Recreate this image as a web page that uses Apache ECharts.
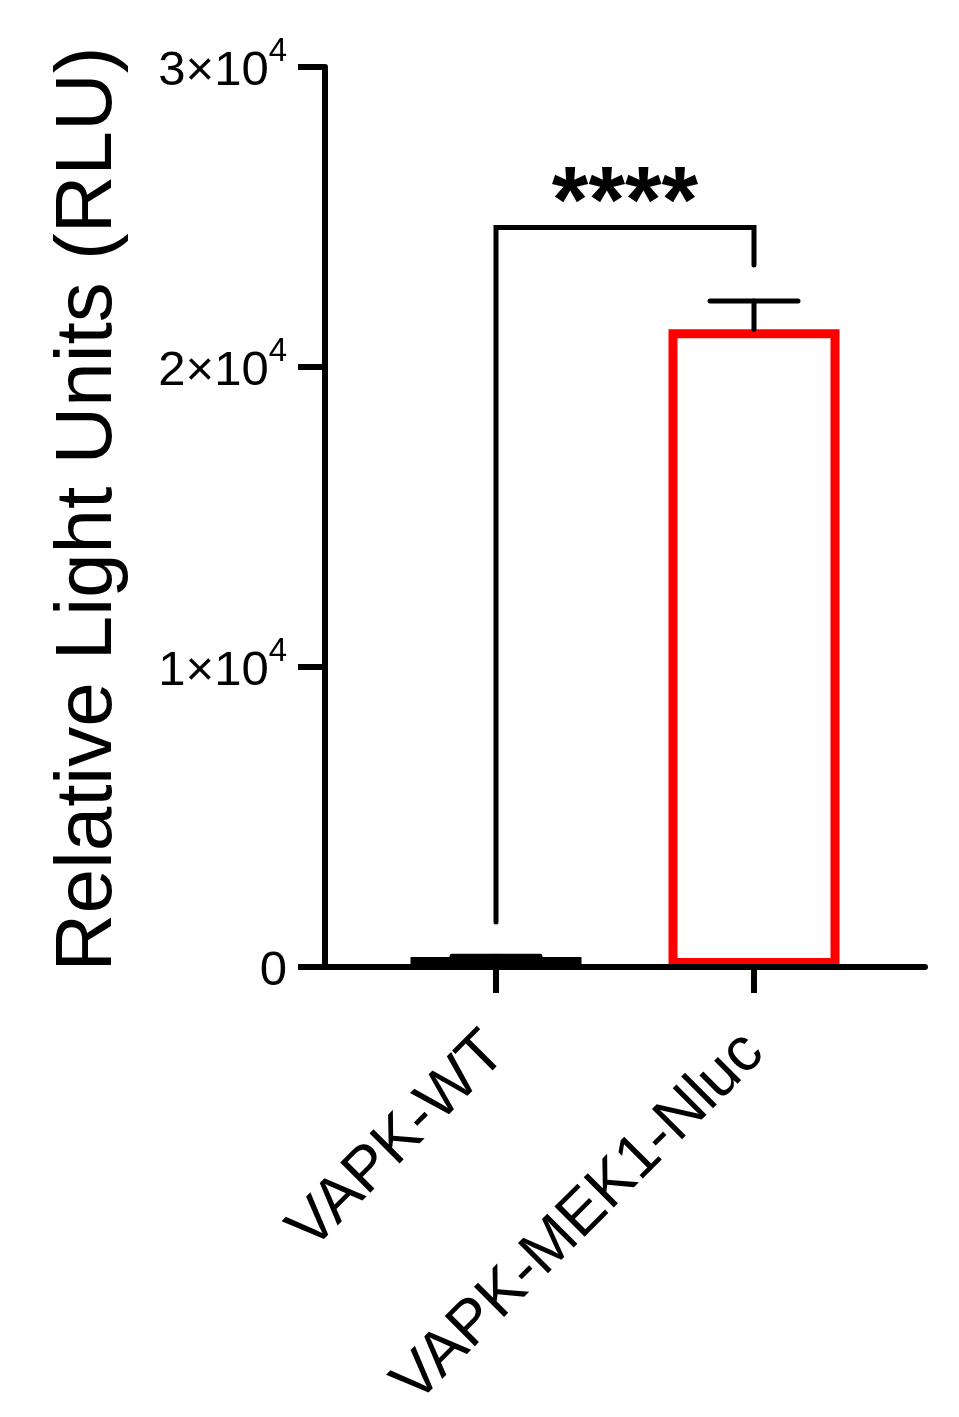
<!DOCTYPE html>
<html>
<head>
<meta charset="utf-8">
<script src="https://cdn.jsdelivr.net/npm/echarts@6/dist/echarts.min.js"></script>
<style>
html,body{margin:0;padding:0;background:#fff;}
#main{width:959px;height:1417px;}
</style>
</head>
<body>
<div id="main"></div>
<script>
var categories = ['VAPK-WT', 'VAPK-MEK1-Nluc'];
var meanValues = [330, 21260];
var errorTops = [360, 22200];
var yTicks = [0, 10000, 20000, 30000];
// bracket: left cat, right cat, left foot, top, right foot
var bracket = [[0, 1, 1500, 24650, 23400]];
var sigText = '****';

var font = '"Liberation Sans", Arial, sans-serif';
var lw = 6;

var chart = echarts.init(document.getElementById('main'));

var option = {
    backgroundColor: '#fff',
    animation: false,
    grid: [
        { left: 325, right: 34, top: 67, bottom: 450, containLabel: false, outerBoundsMode: 'none' },
        { left: 367, right: 76, top: 67, bottom: 450, containLabel: false, outerBoundsMode: 'none' }
    ],
    xAxis: [
        {
            gridIndex: 0,
            type: 'value',
            min: 0,
            max: 1,
            z: 10,
            axisLine: { show: true, lineStyle: { color: '#000', width: lw } },
            axisTick: { show: false },
            axisLabel: { show: false },
            splitLine: { show: false }
        },
        {
            gridIndex: 1,
            type: 'category',
            data: categories,
            axisLine: { show: false },
            axisTick: {
                show: true,
                alignWithLabel: true,
                length: 26,
                lineStyle: { color: '#000', width: lw }
            },
            axisLabel: {
                rotate: 45,
                margin: 76,
                color: '#000',
                fontSize: 62,
                fontFamily: font
            }
        }
    ],
    yAxis: [
        {
            gridIndex: 0,
            type: 'value',
            min: 0,
            max: yTicks[yTicks.length - 1],
            interval: 10000,
            z: 10,
            name: 'Relative Light Units (RLU)',
            nameLocation: 'middle',
            nameRotate: 90,
            nameGap: 196,
            nameTextStyle: { color: '#000', fontSize: 80, fontFamily: font, padding: [0, 0, 0, 16] },
            axisLine: { show: true, lineStyle: { color: '#000', width: lw } },
            axisTick: { show: true, length: 27, lineStyle: { color: '#000', width: lw } },
            splitLine: { show: false },
            axisLabel: {
                margin: 38,
                color: '#000',
                fontFamily: font,
                formatter: function (v) {
                    if (v === 0) return '{b|0}';
                    return '{b|' + (v / 10000) + '×10}{s|4}';
                },
                rich: {
                    b: { fontSize: 49, fontFamily: font, color: '#000', lineHeight: 50, padding: [8, 0, 0, 0], verticalAlign: 'middle' },
                    s: { fontSize: 33, fontFamily: font, color: '#000', lineHeight: 32, padding: [0, 0, 30, 0], verticalAlign: 'middle' }
                }
            }
        },
        {
            gridIndex: 1,
            type: 'value',
            min: 0,
            max: yTicks[yTicks.length - 1],
            show: false
        }
    ],
    series: [
        {
            type: 'bar',
            xAxisIndex: 1,
            yAxisIndex: 1,
            barWidth: 171,
            data: [
                { value: meanValues[0], itemStyle: { color: '#000', borderColor: '#000', borderWidth: 9 } },
                { value: meanValues[1], itemStyle: { color: '#fff', borderColor: '#ff0000', borderWidth: 9 } }
            ]
        },
        {
            type: 'custom',
            xAxisIndex: 1,
            yAxisIndex: 1,
            z: 5,
            data: categories.map(function (c, i) { return [i, meanValues[i], errorTops[i]]; }),
            renderItem: function (params, api) {
                var base = api.coord([api.value(0), api.value(1)]);
                var top = api.coord([api.value(0), api.value(2)]);
                var st = { stroke: '#000', lineWidth: 5, lineCap: 'round' };
                return {
                    type: 'group',
                    children: [
                        { type: 'line', shape: { x1: base[0], y1: base[1], x2: top[0], y2: top[1] }, style: st },
                        { type: 'line', shape: { x1: top[0] - 44, y1: top[1], x2: top[0] + 44, y2: top[1] }, style: st }
                    ]
                };
            }
        },
        {
            type: 'custom',
            xAxisIndex: 1,
            yAxisIndex: 1,
            z: 5,
            data: bracket,
            renderItem: function (params, api) {
                var lb = api.coord([api.value(0), api.value(2)]);
                var lt = api.coord([api.value(0), api.value(3)]);
                var rt = api.coord([api.value(1), api.value(3)]);
                var rb = api.coord([api.value(1), api.value(4)]);
                return {
                    type: 'group',
                    children: [
                        {
                            type: 'polyline',
                            shape: { points: [lb, lt, rt, rb] },
                            style: { stroke: '#000', lineWidth: 5, fill: null, lineCap: 'round', lineJoin: 'miter' }
                        },
                        {
                            type: 'text',
                            x: (lt[0] + rt[0]) / 2,
                            y: lt[1] + 26,
                            style: {
                                text: sigText,
                                fill: '#000',
                                font: 'bold 94px "Liberation Sans", Arial, sans-serif',
                                align: 'center',
                                verticalAlign: 'bottom'
                            }
                        }
                    ]
                };
            }
        }
    ]
};

chart.setOption(option);
window.onresize = chart.resize;
</script>
</body>
</html>
